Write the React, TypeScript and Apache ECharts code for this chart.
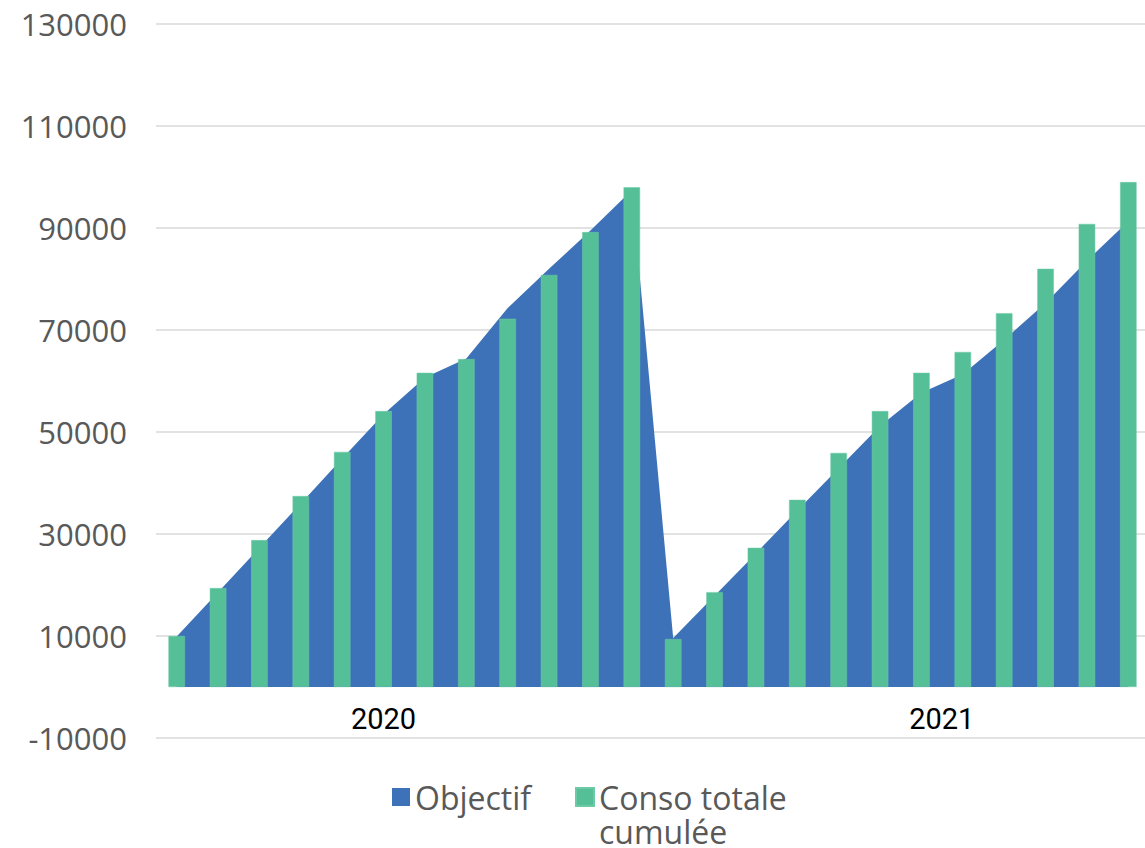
import React, { useEffect, useRef } from 'react';
import * as echarts from 'echarts';

const years = ['2020', '2021'];
const monthNames = ['janv.', 'févr.', 'mars', 'avr.', 'mai', 'juin', 'juil.', 'août', 'sept.', 'oct.', 'nov.', 'déc.'];
const categories = years.flatMap((y) => monthNames.map((m) => `${m} ${y}`));
// category index under which each year label is written
const yearLabelIndex = [5, 19];

const yTicks = { min: -10000, max: 130000, interval: 20000 };

const objectif = [
  9900, 18600, 27300, 36000, 44800, 53500, 60700, 64400, 74300, 82000, 89500, 97400,
  9600, 17900, 26200, 34600, 42900, 51200, 57700, 61300, 68100, 75300, 83600, 91300,
];
const conso = [
  10000, 19400, 28800, 37450, 46100, 54100, 61600, 64300, 72200, 80800, 89200, 98000,
  9400, 18600, 27300, 36700, 45900, 54100, 61600, 65700, 73300, 82000, 90800, 99000,
];

const seriesNames = ['Objectif', 'Conso totale cumulée'];
const BLUE = '#3d72b8';
const GREEN = '#55bf98';
const GREY = '#595959';
const FONT = 'Open Sans';

export default function App() {
  const ref = useRef<HTMLDivElement>(null);
  useEffect(() => {
    if (!ref.current) return;
    const chart = echarts.init(ref.current, undefined, { renderer: 'svg' });
    chart.setOption({
      animation: false,
      backgroundColor: '#ffffff',
      grid: { left: 156, right: -4, top: 24, bottom: 110, containLabel: false, outerBoundsMode: 'none' },
      legend: [
        {
          data: [seriesNames[0]],
          left: 392,
          top: 780,
          padding: 0,
          itemWidth: 18,
          itemHeight: 18,
          icon: 'rect',
          textStyle: { color: GREY, fontSize: 32, fontFamily: FONT, lineHeight: 34 },
        },
        {
          data: [seriesNames[1]],
          left: 575,
          top: 746,
          padding: 0,
          itemWidth: 18,
          itemHeight: 18,
          icon: 'rect',
          formatter: () => '\nConso totale\ncumulée',
          textStyle: { color: GREY, fontSize: 32, fontFamily: FONT, lineHeight: 34 },
        },
      ],
      xAxis: {
        type: 'category',
        position: 'bottom',
        offset: -51,
        data: categories.map((c, i) => ({
          value: c,
          textStyle: i === yearLabelIndex[1] ? { padding: [0, 42, 0, 0] } : {},
        })),
        boundaryGap: true,
        axisLine: { show: false, onZero: false },
        axisTick: { show: false },
        axisLabel: {
          interval: 0,
          color: '#000000',
          fontSize: 29,
          fontFamily: 'Roboto',
          margin: 17,
          formatter: (_v: string, i: number) => {
            const k = yearLabelIndex.indexOf(i);
            return k >= 0 ? years[k] : '';
          },
        },
        splitLine: { show: false },
      },
      yAxis: {
        type: 'value',
        min: yTicks.min,
        max: yTicks.max,
        interval: yTicks.interval,
        axisLine: { show: false },
        axisTick: { show: false },
        axisLabel: {
          color: GREY,
          fontSize: 31,
          fontFamily: FONT,
          margin: 29,
          formatter: (v: number) => String(v),
        },
        splitLine: { lineStyle: { color: '#d9d9d9', width: 1.5 } },
      },
      series: [
        {
          name: seriesNames[0],
          type: 'line',
          data: objectif,
          symbol: 'none',
          lineStyle: { width: 0, color: BLUE },
          itemStyle: { color: BLUE },
          areaStyle: { color: BLUE, opacity: 1 },
          z: 2,
        },
        {
          name: seriesNames[1],
          type: 'bar',
          data: conso,
          barWidth: 16.5,
          itemStyle: { color: GREEN, borderColor: '#6ccaa6', borderWidth: 0.5 },
          z: 3,
        },
      ],
    });
    return () => chart.dispose();
  }, []);
  return (
    <div
      ref={ref}
      style={{ position: 'absolute', left: 0, top: 0, width: 1145, height: 848 }}
    />
  );
}
